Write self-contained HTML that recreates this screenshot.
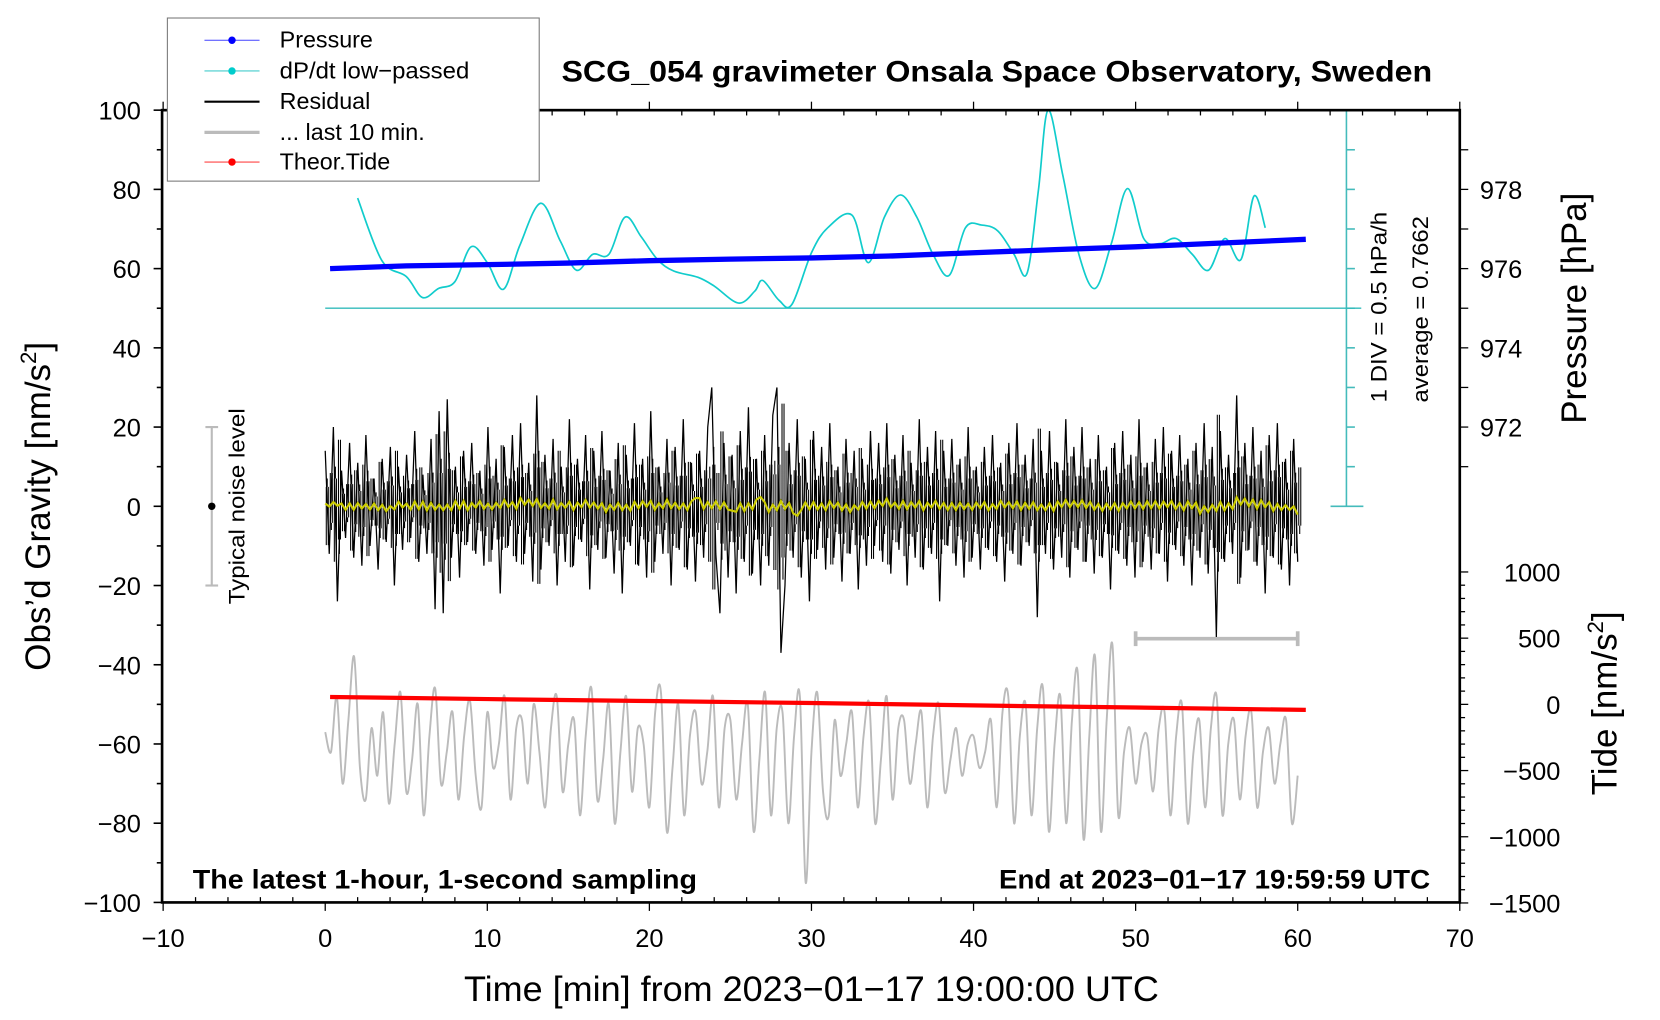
<!DOCTYPE html>
<html><head><meta charset="utf-8"><style>
html,body{margin:0;padding:0;background:#fff}
svg{display:block}
text{font-family:"Liberation Sans",sans-serif;fill:#000}
</style></head><body>
<svg id="chart" width="1660" height="1020" viewBox="0 0 1567 963" preserveAspectRatio="none" xmlns="http://www.w3.org/2000/svg">
<g id="plot"></g>
<rect x="153" y="104" width="1225" height="748" fill="none" stroke="#000" stroke-width="2.5"/>
<text x="941" y="77" font-size="28" font-weight="bold" text-anchor="middle" textLength="822" lengthAdjust="spacingAndGlyphs">SCG_054 gravimeter Onsala Space Observatory, Sweden</text>
<text x="182" y="839" font-size="25" font-weight="bold" textLength="476" lengthAdjust="spacingAndGlyphs">The latest 1-hour, 1-second sampling</text>
<text x="943" y="839" font-size="25" font-weight="bold" textLength="407" lengthAdjust="spacingAndGlyphs">End at 2023−01−17 19:59:59 UTC</text>
<text x="438" y="945" font-size="33" textLength="656" lengthAdjust="spacingAndGlyphs">Time [min] from 2023−01−17 19:00:00 UTC</text>
<text transform="translate(47,478) rotate(-90)" font-size="33" text-anchor="middle">Obs’d Gravity [nm/s<tspan font-size="21" dy="-13">2</tspan><tspan dy="13">]</tspan></text>
<text transform="translate(1497,291) rotate(-90)" font-size="33" text-anchor="middle">Pressure [hPa]</text>
<text transform="translate(1526,664) rotate(-90)" font-size="33" text-anchor="middle">Tide [nm/s<tspan font-size="21" dy="-13">2</tspan><tspan dy="13">]</tspan></text>
<text transform="translate(1309,290) rotate(-90)" font-size="21" text-anchor="middle" textLength="180" lengthAdjust="spacingAndGlyphs">1 DIV = 0.5 hPa/h</text>
<text transform="translate(1348,292) rotate(-90)" font-size="21" text-anchor="middle" textLength="176" lengthAdjust="spacingAndGlyphs">average = 0.7662</text>
<text transform="translate(231,478) rotate(-90)" font-size="21" text-anchor="middle" textLength="185" lengthAdjust="spacingAndGlyphs">Typical noise level</text>
<g>
<rect x="158" y="17" width="351" height="154" fill="#fff" stroke="#777" stroke-width="1"/>
<line x1="193" y1="38" x2="245" y2="38" stroke="#44f" stroke-width="1"/><circle cx="219" cy="38" r="3.5" fill="#00f"/>
<text x="264" y="45" font-size="22">Pressure</text>
<line x1="193" y1="67" x2="245" y2="67" stroke="#4cc" stroke-width="1"/><circle cx="219" cy="67" r="3.5" fill="#0cc"/>
<text x="264" y="74" font-size="22" textLength="179" lengthAdjust="spacingAndGlyphs">dP/dt low−passed</text>
<line x1="193" y1="96" x2="245" y2="96" stroke="#000" stroke-width="2"/>
<text x="264" y="103" font-size="22">Residual</text>
<line x1="193" y1="125" x2="245" y2="125" stroke="#bbb" stroke-width="3"/>
<text x="264" y="132" font-size="22">... last 10 min.</text>
<line x1="193" y1="153" x2="245" y2="153" stroke="#f44" stroke-width="1"/><circle cx="219" cy="153" r="3.5" fill="#f00"/>
<text x="264" y="160" font-size="22">Theor.Tide</text>
</g>
</svg>
<script>
const dpTimes=[2,3.5,5,6,7,8,9,10,11,12,13.3,14.5,15.5,16.5,17.5,18.5,19.5,20.5,21.5,23,24,25.5,26.5,27,28,28.8,30,31,32.5,33.5,34.5,35.5,36.5,37.5,38.5,39.5,40.5,41.5,42.5,43.3,44,44.6,45.5,46.5,47.5,48.5,49.5,50.5,51.5,52.5,53.5,54.5,55.5,56.5,57.3,58];
const dpValues=[77.8,62,58,52.7,55,56.7,65.5,61.5,54.8,65.8,76.5,67,59.6,63.6,63.6,73,68,62.3,59.4,57.8,55.6,51.3,54.3,57,52,51,64,70.3,73.5,61.5,73,78.6,73,63.6,58.3,70.3,71,69.5,63.6,58.8,79.7,100,83.7,63.6,55,66.3,80.2,67.6,66.3,67.6,63.6,59.6,67.6,62.3,78.3,70.3];
const presTimes=[0.3,5,10,15,20,25,30,35,40,45,50,55,60.5];
const presValues=[976.0,976.07,976.1,976.14,976.2,976.24,976.27,976.32,976.4,976.48,976.55,976.64,976.74];
const tideTimes=[0.3,10,20,30,40,50,60.5];
const tideValues=[56,40,25,10,-8,-24,-42];
const residual=[14,-12,20,-24,9,-8,16,-13,11,-15,18,-10,7,-16,12,-9,15,-20,10,-11,13,-8,19,-14,8,-12,17,-26,24,-27,27,-13,10,-18,14,-9,16,-12,9,-15,20,-11,12,-22,15,-10,18,-14,21,-12,11,-19,28,-16,13,-10,17,-20,10,-14,22,-15,12,-9,18,-21,14,-11,19,-13,9,-17,16,-22,13,-10,21,-15,12,-18,24,-14,10,-12,17,-20,15,-11,22,-16,11,-19,14,-13,20,30,-12,-27,16,-18,13,-22,19,-14,25,-17,12,-20,18,-15,23,30,-37,-20,16,-13,22,-18,12,-24,19,-11,15,-16,21,-13,10,-19,17,-12,14,-21,12,-15,19,-10,16,-14,21,-17,13,-11,18,-20,11,-13,22,-16,15,-12,19,-24,14,-10,17,-15,12,-18,20,-13,10,-16,15,-11,18,-14,11,-19,16,-12,21,-15,13,-10,17,-28,14,-12,19,-16,11,-13,22,-18,15,-11,20,-14,12,-17,18,-13,10,-21,16,-12,19,-15,13,-18,22,-14,11,-16,17,-12,20,-19,14,-11,18,-15,12,-20,16,-13,21,-17,15,-33,19,-14,13,-12,28,-18,16,-11,20,-15,14,-22,18,-13,21,-16,12,-20,17,-14];
const lastTen=[-57,-62,-48,-70,-54,-38,-66,-74,-56,-68,-52,-75,-60,-47,-72,-64,-50,-78,-58,-46,-70,-62,-52,-74,-58,-49,-68,-76,-52,-66,-60,-48,-74,-56,-54,-70,-50,-62,-76,-56,-48,-72,-60,-54,-78,-58,-46,-74,-64,-50,-80,-62,-48,-72,-56,-60,-76,-52,-47,-82,-66,-50,-78,-58,-52,-70,-62,-48,-76,-56,-54,-74,-60,-50,-82,-64,-47,-78,-56,-52,-80,-58,-48,-95,-62,-47,-72,-78,-54,-68,-60,-52,-76,-58,-50,-80,-64,-48,-74,-56,-54,-70,-60,-52,-76,-58,-50,-72,-64,-56,-68,-60,-58,-66,-62,-54,-76,-52,-48,-80,-58,-50,-78,-56,-46,-82,-60,-48,-80,-54,-42,-84,-58,-38,-82,-54,-35,-78,-62,-56,-70,-60,-58,-72,-56,-52,-78,-58,-50,-80,-62,-54,-76,-56,-48,-78,-60,-54,-74,-58,-52,-76,-62,-56,-70,-60,-54,-80,-68];

const NS='http://www.w3.org/2000/svg';
const plot=document.getElementById('plot');
const X=t=>307+t*15.3;
const Y=g=>478-g*3.74;
const YP=p=>Y(60+(p-976)*10);
const YT=v=>665-v*0.125;
function mk(tag,attrs,parent){const e=document.createElementNS(NS,tag);for(const k in attrs)e.setAttribute(k,attrs[k]);(parent||plot).appendChild(e);return e;}
function smooth(pts){let d='M'+pts[0][0]+','+pts[0][1];for(let i=0;i<pts.length-1;i++){const p0=pts[Math.max(0,i-1)],p1=pts[i],p2=pts[i+1],p3=pts[Math.min(pts.length-1,i+2)];const c1=[p1[0]+(p2[0]-p0[0])/6,p1[1]+(p2[1]-p0[1])/6],c2=[p2[0]-(p3[0]-p1[0])/6,p2[1]-(p3[1]-p1[1])/6];d+=' C'+c1+' '+c2+' '+p2;}return d;}

// axes ticks
const ax=mk('g',{});


for(let g=-100;g<=100;g+=10){const y=Y(g);const major=g%20===0;mk('line',{x1:153-(major?8:5),x2:153,y1:y,y2:y,stroke:'#000','stroke-width':1.5},ax);
if(major){const t=mk('text',{x:133,y:y+9,'font-size':24,'text-anchor':'end'},ax);t.textContent=(g<0?'−':'')+Math.abs(g);

}}
for(let m=-10;m<=70;m+=2){const x=X(m);const major=m%10===0;
mk('line',{x1:x,x2:x,y1:852,y2:major?860:847,stroke:'#000','stroke-width':1.2},ax);
mk('line',{x1:x,x2:x,y1:104,y2:major?96:109,stroke:'#000','stroke-width':1.2},ax);
if(major){const t=mk('text',{x:x,y:894,'font-size':24,'text-anchor':'middle'},ax);t.textContent=(m<0?'−':'')+Math.abs(m);

}}
for(let p=971;p<=979;p++){const y=YP(p);mk('line',{x1:1378,x2:1386,y1:y,y2:y,stroke:'#000','stroke-width':1.2},ax);
if(p%2===0){const t=mk('text',{x:1397,y:y+9,'font-size':24},ax);t.textContent=p;

}}
for(let v=-1500;v<=1000;v+=100){const y=YT(v);const major=v%500===0;mk('line',{x1:1378,x2:1378+(major?8:5),y1:y,y2:y,stroke:'#000','stroke-width':1.2},ax);
if(major){const t=mk('text',{x:1473,y:y+9,'font-size':24,'text-anchor':'end'},ax);t.textContent=(v<0?'−':'')+Math.abs(v);

}}

// dP/dt scale axis
const cy=mk('g',{stroke:'#4bb','stroke-width':1.5});


mk('line',{x1:1271,x2:1271,y1:Y(100),y2:Y(0)},cy);
mk('line',{x1:1256,x2:1287,y1:Y(100),y2:Y(100)},cy);
mk('line',{x1:1256,x2:1287,y1:Y(0),y2:Y(0)},cy);
for(let g=10;g<100;g+=10)mk('line',{x1:1271,x2:1279,y1:Y(g),y2:Y(g)},cy);
const base=mk('line',{x1:X(0),x2:1285,y1:Y(50),y2:Y(50),stroke:'#3bb','stroke-width':1.3});



// noise bar
const nb=mk('g',{stroke:'#bbb','stroke-width':2});


mk('line',{x1:X(-7),x2:X(-7),y1:Y(20),y2:Y(-20)},nb);
mk('line',{x1:X(-7)-6,x2:X(-7)+6,y1:Y(20),y2:Y(20)},nb);
mk('line',{x1:X(-7)-6,x2:X(-7)+6,y1:Y(-20),y2:Y(-20)},nb);
mk('circle',{cx:X(-7),cy:Y(0),r:3.5,fill:'#000',stroke:'none'},nb);

// last 10 min bar
const lb=mk('g',{stroke:'#bbb','stroke-width':3.5});


mk('line',{x1:X(50),x2:X(60),y1:603,y2:603},lb);
mk('line',{x1:X(50),x2:X(50),y1:596,y2:610},lb);
mk('line',{x1:X(60),x2:X(60),y1:596,y2:610},lb);

// last 10 min trace
const gp=lastTen.map((v,i)=>[X(i*60/(lastTen.length-1)),Y(v)]);
const gl=mk('path',{d:smooth(gp),fill:'none',stroke:'#bbb','stroke-width':1.8});



// residual: line plus per-sample vertical swing to mimic 1-second density
const n=residual.length;
const rx=i=>X(i*60/(n-1));
const rp=residual.map((v,i)=>rx(i).toFixed(1)+','+Y(v).toFixed(1));
const rl=mk('polyline',{points:rp.join(' '),fill:'none',stroke:'#000','stroke-width':1.2});


let dd='';
residual.forEach((v,i)=>{const x0=rx(i),w=(rx(1)-rx(0));
for(let k=1;k<4;k++){const x=x0+w*k/4;const a=(k%2?-0.7:0.5)*v;dd+='M'+x.toFixed(1)+','+Y(v*0.35).toFixed(1)+'L'+x.toFixed(1)+','+Y(a).toFixed(1);}});
const rs=mk('path',{d:dd,fill:'none',stroke:'#000','stroke-width':1});


const sm=[];for(let i=0;i<n;i++){let s=0,c=0;for(let j=i-4;j<=i+4;j++){if(j>=0&&j<n){s+=residual[j];c++;}}sm.push([rx(i),Y(s/c*0.5)]);}
const yl=mk('polyline',{points:sm.map(p=>p.join(',')).join(' '),fill:'none',stroke:'#cc0','stroke-width':2});



// dP/dt
const cl=mk('path',{d:smooth(dpTimes.map((t,i)=>[X(t),Y(dpValues[i])])),fill:'none',stroke:'#1cc','stroke-width':1.6});



// pressure
const pl=mk('polyline',{points:presTimes.map((t,i)=>X(t)+','+YP(presValues[i])).join(' '),fill:'none',stroke:'#00f','stroke-width':5});



// tide
const tl=mk('polyline',{points:tideTimes.map((t,i)=>X(t)+','+YT(tideValues[i])).join(' '),fill:'none',stroke:'#f00','stroke-width':4});


</script>
</body></html>
